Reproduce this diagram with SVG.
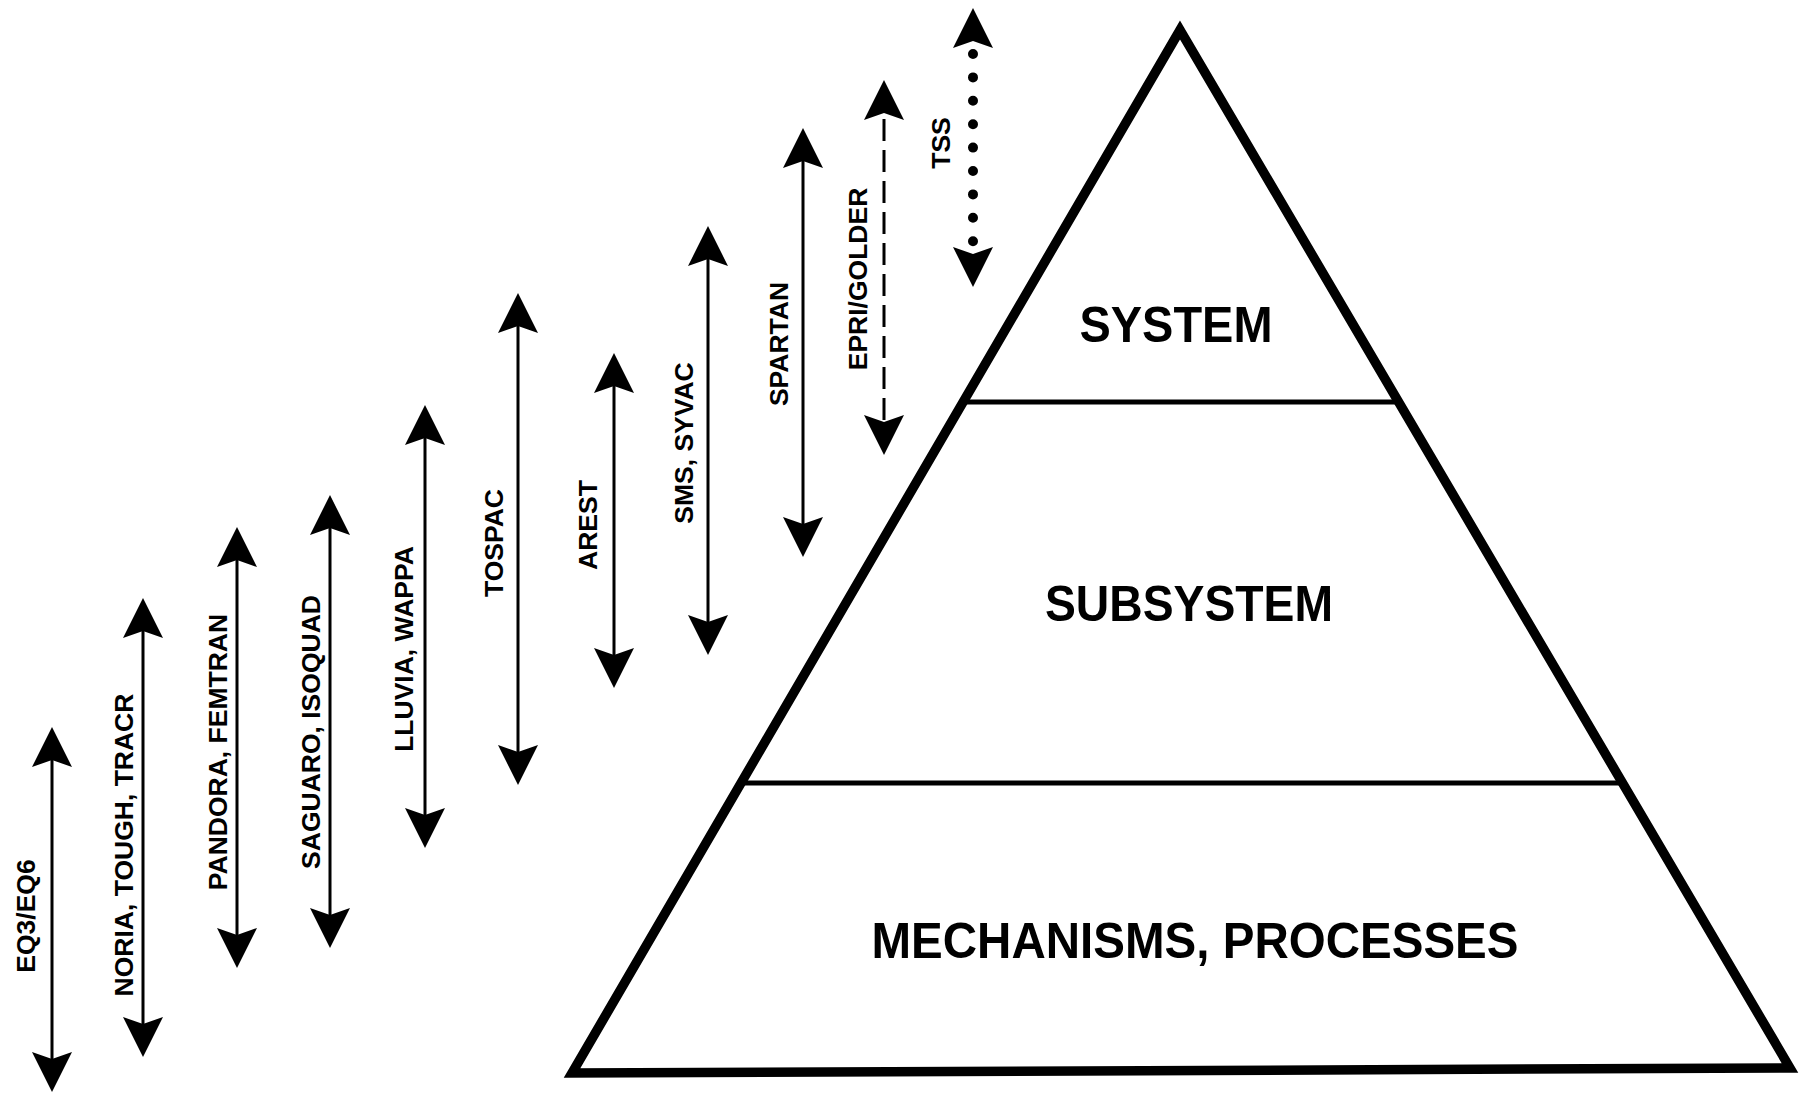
<svg xmlns="http://www.w3.org/2000/svg" xmlns:xlink="http://www.w3.org/1999/xlink" width="1804" height="1093" viewBox="0 0 1804 1093">
<style>
.lbl{font-family:"Liberation Sans",Arial,sans-serif;font-weight:bold;font-size:26.5px;fill:#000;text-anchor:middle}
.big{font-family:"Liberation Sans",Arial,sans-serif;font-weight:bold;font-size:50px;fill:#000;text-anchor:middle}
.shaft{stroke:#000;stroke-width:3;fill:none}
.dash{stroke-dasharray:22 9}
.dots{stroke-width:10;stroke-linecap:round;stroke-dasharray:0 23.4}
.head{fill:#000}
.tri{fill:none;stroke:#000;stroke-width:9.5;stroke-linejoin:miter}
.tier{stroke:#000;stroke-width:5}
</style>
<defs>
<path id="hd" d="M0,0 L20,40 L0,33 L-20,40 Z"/>
</defs>
<rect width="1804" height="1093" fill="#fff"/>
<g id="pyramid">
<polygon class="tri" points="1180,30 572,1073 1790,1068"/>
<line class="tier" x1="963" y1="402" x2="1399" y2="402"/>
<line class="tier" x1="741" y1="783" x2="1622" y2="783"/>
</g>
<g id="tier-system"><text class="big" x="1176" y="342" textLength="193" lengthAdjust="spacingAndGlyphs">SYSTEM</text></g>
<g id="tier-subsystem"><text class="big" x="1189" y="621" textLength="288" lengthAdjust="spacingAndGlyphs">SUBSYSTEM</text></g>
<g id="tier-mechanisms"><text class="big" x="1195" y="958" textLength="647" lengthAdjust="spacingAndGlyphs">MECHANISMS, PROCESSES</text></g>
<g id="connectors">
<g id="a-eq3">
<line class="shaft" x1="52" y1="760" x2="52" y2="1059"/>
<use href="#hd" class="head" transform="translate(52,727)"/>
<use href="#hd" class="head" transform="translate(52,1092) rotate(180)"/>
<text class="lbl" transform="translate(35,916) rotate(-90)">EQ3/EQ6</text>
</g>
<g id="a-noria">
<line class="shaft" x1="143" y1="631" x2="143" y2="1024"/>
<use href="#hd" class="head" transform="translate(143,598)"/>
<use href="#hd" class="head" transform="translate(143,1057) rotate(180)"/>
<text class="lbl" transform="translate(133,845) rotate(-90)">NORIA, TOUGH, TRACR</text>
</g>
<g id="a-pandora">
<line class="shaft" x1="237" y1="560" x2="237" y2="935"/>
<use href="#hd" class="head" transform="translate(237,527)"/>
<use href="#hd" class="head" transform="translate(237,968) rotate(180)"/>
<text class="lbl" transform="translate(227,752) rotate(-90)">PANDORA, FEMTRAN</text>
</g>
<g id="a-saguaro">
<line class="shaft" x1="330" y1="528" x2="330" y2="915"/>
<use href="#hd" class="head" transform="translate(330,495)"/>
<use href="#hd" class="head" transform="translate(330,948) rotate(180)"/>
<text class="lbl" transform="translate(320,732) rotate(-90)">SAGUARO, ISOQUAD</text>
</g>
<g id="a-lluvia">
<line class="shaft" x1="425" y1="438" x2="425" y2="815"/>
<use href="#hd" class="head" transform="translate(425,405)"/>
<use href="#hd" class="head" transform="translate(425,848) rotate(180)"/>
<text class="lbl" transform="translate(413,649) rotate(-90)">LLUVIA, WAPPA</text>
</g>
<g id="a-tospac">
<line class="shaft" x1="518" y1="326" x2="518" y2="752"/>
<use href="#hd" class="head" transform="translate(518,293)"/>
<use href="#hd" class="head" transform="translate(518,785) rotate(180)"/>
<text class="lbl" transform="translate(503,543) rotate(-90)">TOSPAC</text>
</g>
<g id="a-arest">
<line class="shaft" x1="614" y1="386" x2="614" y2="655"/>
<use href="#hd" class="head" transform="translate(614,353)"/>
<use href="#hd" class="head" transform="translate(614,688) rotate(180)"/>
<text class="lbl" transform="translate(597,525) rotate(-90)">AREST</text>
</g>
<g id="a-sms">
<line class="shaft" x1="708" y1="259" x2="708" y2="622"/>
<use href="#hd" class="head" transform="translate(708,226)"/>
<use href="#hd" class="head" transform="translate(708,655) rotate(180)"/>
<text class="lbl" transform="translate(693,443) rotate(-90)">SMS, SYVAC</text>
</g>
<g id="a-spartan">
<line class="shaft" x1="803" y1="161" x2="803" y2="524"/>
<use href="#hd" class="head" transform="translate(803,128)"/>
<use href="#hd" class="head" transform="translate(803,557) rotate(180)"/>
<text class="lbl" transform="translate(788,344) rotate(-90)">SPARTAN</text>
</g>
<g id="a-epri">
<line class="shaft dash" x1="884" y1="119" x2="884" y2="420"/>
<use href="#hd" class="head" transform="translate(884,80)"/>
<use href="#hd" class="head" transform="translate(884,455) rotate(180)"/>
<text class="lbl" transform="translate(867,279) rotate(-90)">EPRI/GOLDER</text>
</g>
<g id="a-tss">
<line class="shaft dots" x1="973" y1="54" x2="973" y2="241.5"/>
<use href="#hd" class="head" transform="translate(973,8)"/>
<use href="#hd" class="head" transform="translate(973,287) rotate(180)"/>
<text class="lbl" transform="translate(950,143) rotate(-90)">TSS</text>
</g>
</g>
</svg>
